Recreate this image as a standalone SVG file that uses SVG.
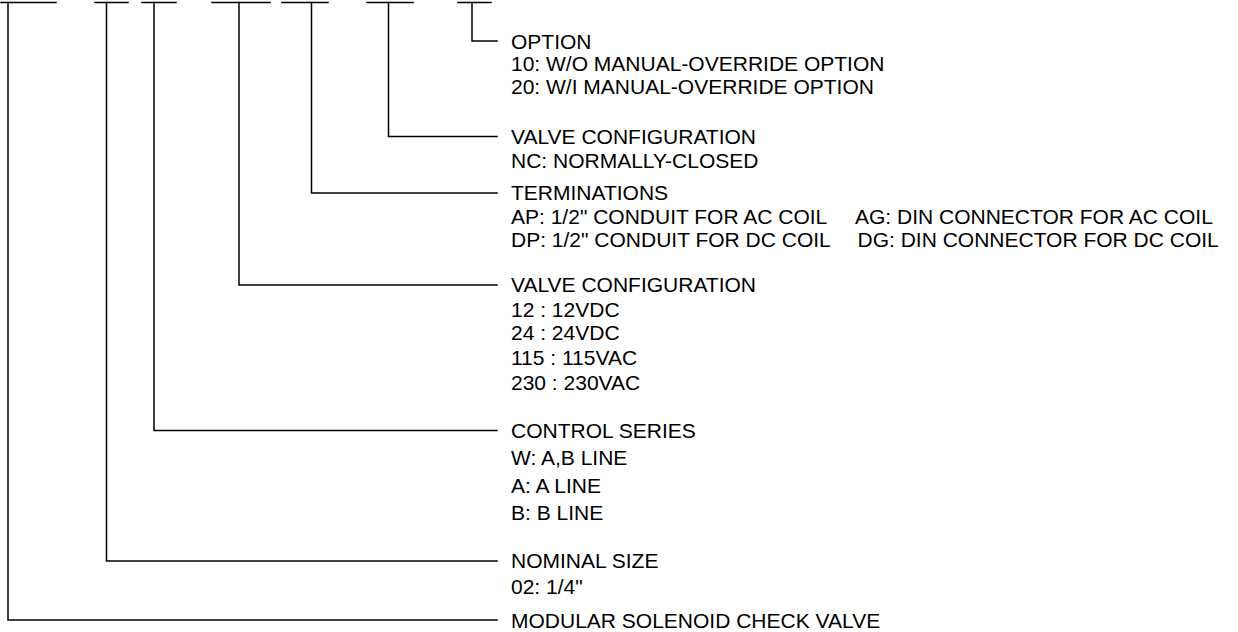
<svg xmlns="http://www.w3.org/2000/svg" width="1238" height="632" viewBox="0 0 1238 632">
<style>
.ln{fill:none;stroke:#000;stroke-width:1.5;stroke-linecap:square}
text{font-family:"Liberation Sans",Arial,sans-serif;font-size:21px;fill:#000}
</style>
<rect width="1238" height="632" fill="#fff"/>
<g id="connectors">
<path class="ln" d="M1,2.5H56 M95,2.5H128 M142,2.5H176 M212,2.5H270 M282,2.5H328 M367,2.5H413 M458,2.5H491"/>
<path class="ln" d="M472,2.5V41H497"/>
<path class="ln" d="M388.5,2.5V136.5H497"/>
<path class="ln" d="M311.5,2.5V193H497"/>
<path class="ln" d="M239,2.5V285H497"/>
<path class="ln" d="M154,2.5V430.5H497"/>
<path class="ln" d="M106.5,2.5V561H497"/>
<path class="ln" d="M8,2.5V620H497"/>
</g>
<g id="option">
<text x="511" y="48.5">OPTION</text>
<text x="511" y="71">10: W/O MANUAL-OVERRIDE OPTION</text>
<text x="511" y="94">20: W/I MANUAL-OVERRIDE OPTION</text>
</g>
<g id="valve-config-nc">
<text x="511" y="144">VALVE CONFIGURATION</text>
<text x="511" y="168.3">NC: NORMALLY-CLOSED</text>
</g>
<g id="terminations">
<text x="511" y="200.3">TERMINATIONS</text>
<text x="511" y="224.3">AP: 1/2" CONDUIT FOR AC COIL</text>
<text x="855" y="224.3">AG: DIN CONNECTOR FOR AC COIL</text>
<text x="511" y="247">DP: 1/2" CONDUIT FOR DC COIL</text>
<text x="857.5" y="247">DG: DIN CONNECTOR FOR DC COIL</text>
</g>
<g id="valve-config-voltage">
<text x="511" y="292.3">VALVE CONFIGURATION</text>
<text x="511" y="316.5">12 : 12VDC</text>
<text x="511" y="340">24 : 24VDC</text>
<text x="511" y="365">115 : 115VAC</text>
<text x="511" y="389.5">230 : 230VAC</text>
</g>
<g id="control-series">
<text x="511" y="438.3">CONTROL SERIES</text>
<text x="511" y="465">W: A,B LINE</text>
<text x="511" y="492.5">A: A LINE</text>
<text x="511" y="520">B: B LINE</text>
</g>
<g id="nominal-size">
<text x="511" y="567.5">NOMINAL SIZE</text>
<text x="511" y="593.8">02: 1/4"</text>
</g>
<g id="modular">
<text x="511" y="628">MODULAR SOLENOID CHECK VALVE</text>
</g>
</svg>
